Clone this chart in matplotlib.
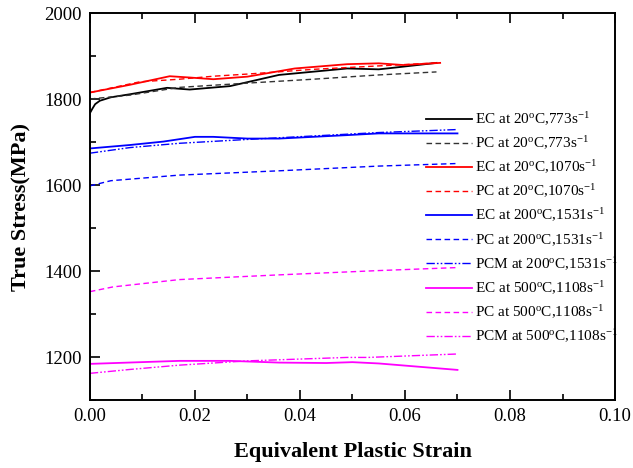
import numpy as np
import matplotlib
matplotlib.use("Agg")
import matplotlib.pyplot as plt
from matplotlib.ticker import MultipleLocator

plt.rcParams['font.family'] = 'Liberation Serif'
plt.rcParams['mathtext.fontset'] = 'custom'
plt.rcParams['mathtext.rm'] = 'Liberation Serif'
plt.rcParams['mathtext.it'] = 'Liberation Serif:italic'

# values
ec20_773_x = [0.0, 0.0005, 0.001, 0.0019, 0.004, 0.0076, 0.0147, 0.019, 0.0267, 0.036, 0.049, 0.055, 0.0573, 0.066]
ec20_773_y = [1767, 1778, 1788, 1796, 1804, 1811, 1826, 1822, 1830, 1856, 1871, 1869, 1872, 1884]

pc20_773_x = [0.0, 0.0076, 0.017, 0.030, 0.0425, 0.055, 0.066]
pc20_773_y = [1800, 1809, 1827, 1837, 1846, 1856, 1863]

ec20_1070_x = [0.0, 0.0076, 0.0152, 0.019, 0.0235, 0.030, 0.039, 0.049, 0.055, 0.0597, 0.0667]
ec20_1070_y = [1815, 1833, 1853, 1850, 1846, 1852, 1871, 1881, 1883, 1879, 1884]

pc20_1070_x = [0.0, 0.0095, 0.017, 0.0235, 0.030, 0.0425, 0.055, 0.066]
pc20_1070_y = [1815, 1840, 1846, 1853, 1858, 1869, 1877, 1884]

ec200_x = [0.0, 0.0076, 0.014, 0.020, 0.0235, 0.030, 0.036, 0.049, 0.055, 0.070]
ec200_y = [1685, 1693, 1701, 1712, 1712, 1708, 1708, 1716, 1720, 1720]

pc200_x = [0.0, 0.004, 0.017, 0.036, 0.055, 0.070]
pc200_y = [1598, 1610, 1623, 1633, 1644, 1650]

pcm200_x = [0.0, 0.0076, 0.017, 0.030, 0.0425, 0.055, 0.070]
pcm200_y = [1674, 1687, 1697, 1706, 1714, 1722, 1729]

ec500_x = [0.0, 0.017, 0.0267, 0.036, 0.045, 0.050, 0.055, 0.070]
ec500_y = [1184, 1191, 1191, 1187, 1186, 1188, 1185, 1170]

pc500_x = [0.0, 0.0044, 0.017, 0.036, 0.055, 0.070]
pc500_y = [1352, 1363, 1380, 1391, 1401, 1408]

pcm500_x = [0.0, 0.0076, 0.017, 0.030, 0.049, 0.053, 0.070]
pcm500_y = [1162, 1171, 1181, 1191, 1199, 1199, 1207]

labels = [
    r'EC at 20$^{\mathrm{o}}$C,773s$^{\mathrm{-1}}$',
    r'PC at 20$^{\mathrm{o}}$C,773s$^{\mathrm{-1}}$',
    r'EC at 20$^{\mathrm{o}}$C,1070s$^{\mathrm{-1}}$',
    r'PC at 20$^{\mathrm{o}}$C,1070s$^{\mathrm{-1}}$',
    r'EC at 200$^{\mathrm{o}}$C,1531s$^{\mathrm{-1}}$',
    r'PC at 200$^{\mathrm{o}}$C,1531s$^{\mathrm{-1}}$',
    r'PCM at 200$^{\mathrm{o}}$C,1531s$^{\mathrm{-1}}$',
    r'EC at 500$^{\mathrm{o}}$C,1108s$^{\mathrm{-1}}$',
    r'PC at 500$^{\mathrm{o}}$C,1108s$^{\mathrm{-1}}$',
    r'PCM at 500$^{\mathrm{o}}$C,1108s$^{\mathrm{-1}}$',
]

solid = '-'
dashed = (0, (4, 2.5))
dashdot = (0, (6, 1.5, 1.2, 1.5, 1.2, 1.5))

series = [
    (ec20_773_x, ec20_773_y, 'black', solid, 1.3),
    (pc20_773_x, pc20_773_y, '#333333', dashed, 1.0),
    (ec20_1070_x, ec20_1070_y, 'red', solid, 1.3),
    (pc20_1070_x, pc20_1070_y, 'red', dashed, 1.0),
    (ec200_x, ec200_y, 'blue', solid, 1.3),
    (pc200_x, pc200_y, 'blue', dashed, 1.0),
    (pcm200_x, pcm200_y, 'blue', dashdot, 1.0),
    (ec500_x, ec500_y, 'magenta', solid, 1.3),
    (pc500_x, pc500_y, 'magenta', dashed, 1.0),
    (pcm500_x, pcm500_y, 'magenta', dashdot, 1.0),
]

fig = plt.figure(figsize=(6.33, 4.68), dpi=100)
ax = fig.add_axes([0.142, 0.1453, 0.8296, 0.8269])

for (x, y, c, ls, lw), lab in zip(series, labels):
    ax.plot(x, y, color=c, linestyle=ls, linewidth=lw, label=lab)

ax.set_xlim(0, 0.10)
ax.set_ylim(1100, 2000)
ax.xaxis.set_major_locator(MultipleLocator(0.02))
ax.xaxis.set_minor_locator(MultipleLocator(0.01))
ax.yaxis.set_major_locator(MultipleLocator(200))
ax.yaxis.set_minor_locator(MultipleLocator(100))
ax.xaxis.set_major_formatter(plt.FuncFormatter(lambda v, p: f'{v:.2f}'))
ax.tick_params(axis='both', which='both', direction='in', top=True, right=False,
               labelsize=13.5, pad=6)
ax.tick_params(which='major', length=7, width=1.2)
ax.tick_params(which='minor', length=4, width=1.2)
for s in ax.spines.values():
    s.set_linewidth(1.4)

ax.set_xlabel('Equivalent Plastic Strain', fontsize=16, fontweight='bold', labelpad=12)
ax.set_ylabel('True Stress(MPa)', fontsize=16, fontweight='bold', labelpad=9)

ax.legend(loc='upper left', bbox_to_anchor=(0.64, 0.748), frameon=False, fontsize=11,
          handlelength=3.0, handletextpad=0.2, labelspacing=0.43, borderpad=0,
          borderaxespad=0)

fig.savefig('out.png', dpi=100)
